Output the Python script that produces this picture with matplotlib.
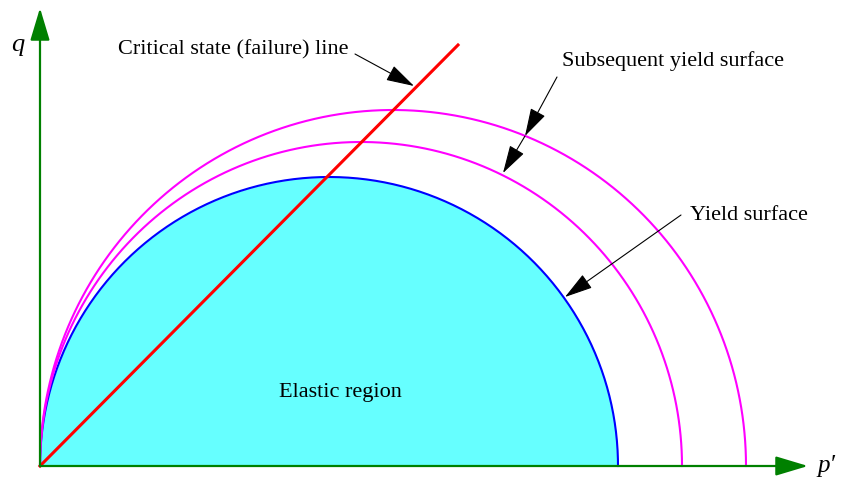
import numpy as np
import matplotlib.pyplot as plt

# yield surfaces: extent along p' and peak q (elliptical caps)
p_extent = [578, 642, 706]
q_peak = [289, 324, 356]
# critical state line end point
csl_p = [0, 418]
csl_q = [0, 421]

plt.rcParams['font.family'] = ['Liberation Serif', 'DejaVu Serif']

fig = plt.figure(figsize=(8.42, 4.79), dpi=100)
ax = fig.add_axes([0, 0, 1, 1])
ax.set_xlim(-40, 802)
ax.set_ylim(-13, 466)
ax.axis('off')

t = np.linspace(0, np.pi, 400)

def cap(a, b):
    r = a / 2.0
    return r - r * np.cos(t), b * np.sin(t)

# elastic region
x, y = cap(p_extent[0], q_peak[0])
ax.fill_between(x, 0, y, color='#66ffff', lw=0, zorder=1)
ax.plot(x, y, color='#0000ff', lw=1.5, zorder=3)

for a, b in zip(p_extent[1:], q_peak[1:]):
    x, y = cap(a, b)
    ax.plot(x, y, color='#ff00ff', lw=1.5, zorder=3)

ax.plot(csl_p, csl_q, color='#ff0000', lw=2.2, zorder=4)

# axes with arrow heads
green = '#008000'
ax.annotate('', xy=(768, 0), xytext=(0, 0),
            arrowprops=dict(arrowstyle='-|>,head_length=1.0,head_width=0.3',
                            color=green, lw=1.6, mutation_scale=20, shrinkA=0, shrinkB=0),
            zorder=5)
ax.annotate('', xy=(0, 458), xytext=(0, 0),
            arrowprops=dict(arrowstyle='-|>,head_length=1.0,head_width=0.3',
                            color=green, lw=1.6, mutation_scale=20, shrinkA=0, shrinkB=0),
            zorder=5)

ax.text(-22, 421, 'q', fontsize=19, style='italic', ha='center', va='center')
ax.text(786, 0, "p′", fontsize=18, style='italic', ha='center', va='center')

arrow = dict(arrowstyle='-|>,head_length=1.1,head_width=0.32', color='black',
             lw=0.8, mutation_scale=16, shrinkA=0, shrinkB=0)

ax.text(78, 416, 'Critical state (failure) line', fontsize=16, ha='left', va='center')
ax.annotate('', xy=(374, 380), xytext=(315, 412), arrowprops=arrow, zorder=6)

ax.text(522, 405, 'Subsequent yield surface', fontsize=16, ha='left', va='center')
ax.annotate('', xy=(485, 330), xytext=(517, 389), arrowprops=arrow, zorder=6)
ax.annotate('', xy=(463, 293), xytext=(485, 330), arrowprops=arrow, zorder=6)

ax.text(650, 251, 'Yield surface', fontsize=16, ha='left', va='center')
ax.annotate('', xy=(525, 169), xytext=(641, 251), arrowprops=arrow, zorder=6)

ax.text(300, 74, 'Elastic region', fontsize=16, ha='center', va='center')

fig.savefig('out.png', dpi=100)
